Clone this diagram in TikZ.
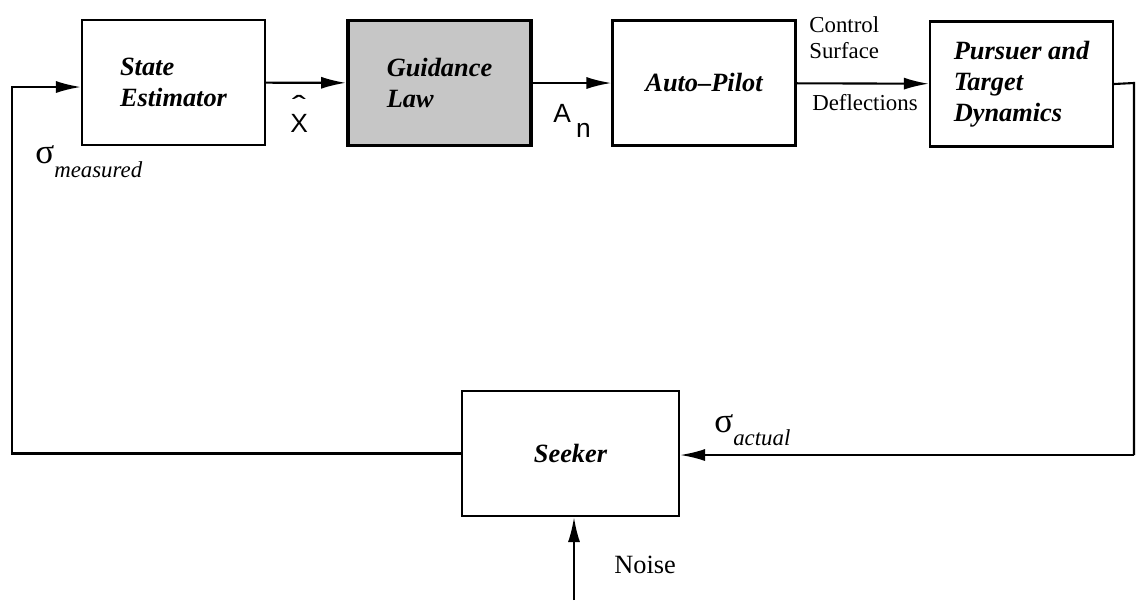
\documentclass[tikz,border=0pt]{standalone}
\usepackage{fontspec}
\setmainfont{Liberation Serif}
\newfontfamily\hvfont{Liberation Sans}
\usetikzlibrary{arrows.meta}

\begin{document}
\begin{tikzpicture}[x=0.02cm, y=-0.02cm,
  blocco/.style={draw, line width=1.2pt, minimum width=3.66cm, minimum height=2.5cm,
    font=\fontsize{15}{17.5}\selectfont\bfseries\itshape, align=left},
  freccia/.style={line width=1.2pt, -{Latex[length=0.5cm, width=0.24cm]}},
  linea/.style={line width=1.2pt},
  etichetta/.style={font=\fontsize{13}{14.7}\selectfont, align=left, inner sep=0pt}]

% Colori
\definecolor{grigioGuida}{HTML}{C6C6C6}

% Area del disegno
\useasboundingbox (0,0) rectangle (1136,600);

% Blocchi
\node[blocco] (stima) at (173.5,82.5) {State\\Estimator};
\node[blocco, fill=grigioGuida, line width=2.2pt] (guida) at (439.5,83) {Guidance\\Law};
\node[blocco] (pilota) at (704,83) {Auto--Pilot};
\node[blocco] (dinamica) at (1021.5,84) {Pursuer and\\Target\\Dynamics};
\node[blocco, minimum width=4.34cm] (seeker) at (570.5,453.5) {Seeker};

% Punti di passaggio
\coordinate (destra) at (1134,83);
\coordinate (destraBasso) at (1134,455);
\coordinate (sinistra) at (12,87);
\coordinate (rumore) at (574,600);

% Catena diretta
\draw[freccia] (stima) -- (guida);
\draw[freccia] (guida) -- (pilota);
\draw[freccia] (pilota) -- (dinamica);

% Anello di retroazione
\draw[linea] (dinamica.east) -- (destra) -- (destraBasso);
\draw[freccia] (destraBasso) -- (destraBasso -| seeker.east);
\draw[freccia] (seeker.west) -| (sinistra) -- (sinistra -| stima.west);
\draw[freccia] (rumore) -- (rumore |- seeker.south);

% Etichette
\node[etichetta, anchor=base west] (xhat) at (290,132)
  {\fontsize{15}{17}\selectfont\hvfont\begin{tabular}[b]{@{}c@{}}\scalebox{1.6}[1.1]{\char"02C6}\\[-8pt]X\end{tabular}};
\node[etichetta, anchor=base west] (accel) at (553,122) {\fontsize{15}{17}\selectfont\hvfont A\kern3pt\raisebox{-9pt}{n}};
\node[etichetta, anchor=base west] (superficie) at (809,58) {Control\\Surface};
\node[etichetta, anchor=base west] (deflessioni) at (812,110) {Deflections};
\node[etichetta, anchor=base west] (smisurato) at (35,163) {{\fontsize{20}{20}\selectfont σ}\raisebox{-8pt}{\itshape measured}};
\node[etichetta, anchor=base west] (sattuale) at (714,432) {{\fontsize{20}{20}\selectfont σ}\raisebox{-7.5pt}{\itshape actual}};
\node[etichetta, anchor=base west, font=\fontsize{15}{17}\selectfont] (noise) at (614,573) {Noise};

\end{tikzpicture}
\end{document}
